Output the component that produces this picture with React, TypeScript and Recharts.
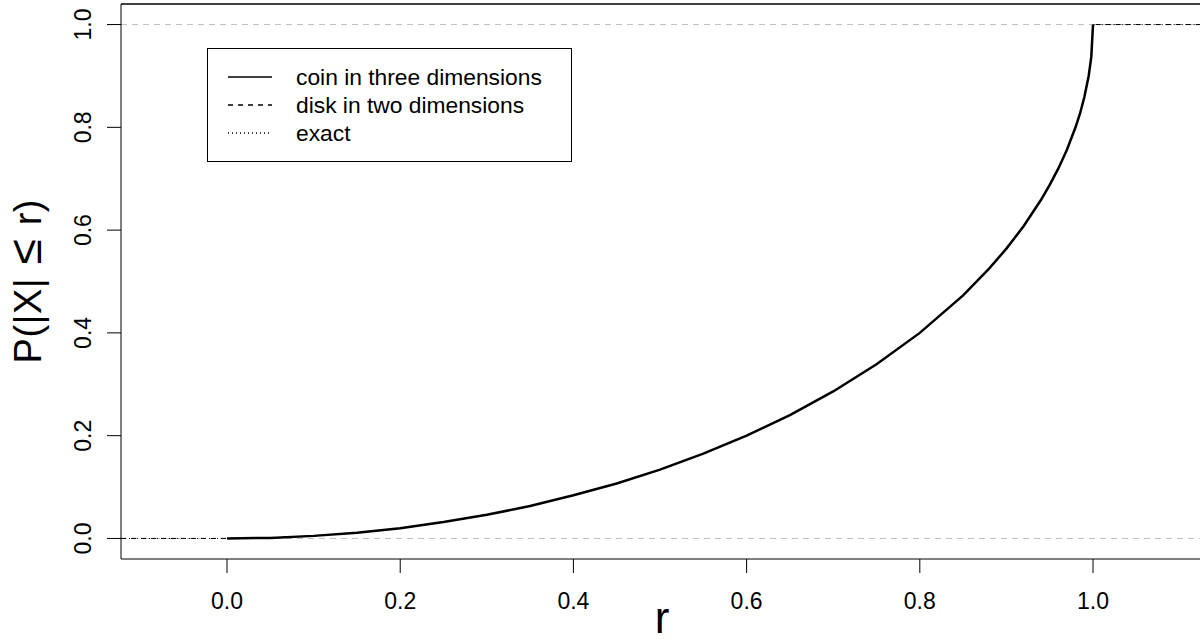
import { LineChart, Line, XAxis, YAxis, ReferenceLine, Legend } from "recharts";

const rGrid = [
  -0.1224, 0, 0.05, 0.1, 0.15, 0.2, 0.25, 0.3, 0.35, 0.4, 0.45, 0.5, 0.55, 0.6, 0.65, 0.7, 0.75,
  0.8, 0.85, 0.88, 0.9, 0.92, 0.94, 0.95, 0.96, 0.97, 0.98, 0.985, 0.99, 0.995, 0.998, 1.0, 1.127,
];
const coinProb = [
  null, 0, 0.001, 0.005, 0.011, 0.02, 0.032, 0.046, 0.063, 0.084, 0.107, 0.134, 0.165, 0.2, 0.24,
  0.286, 0.339, 0.4, 0.473, 0.525, 0.564, 0.608, 0.659, 0.688, 0.72, 0.757, 0.801, 0.827, 0.859,
  0.9, 0.937, 1, null,
];
const diskProb = [
  0, 0, 0.001, 0.005, 0.011, 0.02, 0.032, 0.046, 0.063, 0.084, 0.107, 0.134, 0.165, 0.2, 0.24,
  0.286, 0.339, 0.4, 0.473, 0.525, 0.564, 0.608, 0.659, 0.688, 0.72, 0.757, 0.801, 0.827, 0.859,
  0.9, 0.937, 1, 1,
];
const exactProb = [
  0, 0, 0.001, 0.005, 0.011, 0.02, 0.032, 0.046, 0.063, 0.084, 0.107, 0.134, 0.165, 0.2, 0.24,
  0.286, 0.339, 0.4, 0.473, 0.525, 0.564, 0.608, 0.659, 0.688, 0.72, 0.757, 0.801, 0.827, 0.859,
  0.9, 0.937, 1, 1,
];
const xTicks = [0, 0.2, 0.4, 0.6, 0.8, 1.0];
const yTicks = [0, 0.2, 0.4, 0.6, 0.8, 1.0];
const refLevels = [0, 1];
const seriesNames = ["coin in three dimensions", "disk in two dimensions", "exact"];

const xDomain: [number, number] = [-0.1224, 1.127];
const yDomain: [number, number] = [-0.04, 1.04];

const font = '"Liberation Sans", Arial, Helvetica, sans-serif';
const dashes = ["", "5 5", "1 3"];
const widths = [2.5, 1, 1];

const data = rGrid.map((r, i) => ({
  r,
  coin: coinProb[i],
  disk: diskProb[i],
  exact: exactProb[i],
}));

const YTick = ({ x, y, payload }: any) => (
  <text
    x={x}
    y={y}
    transform={`rotate(-90 ${x} ${y})`}
    textAnchor="middle"
    fontSize={23}
    fontFamily={font}
    fill="#000"
  >
    {Number(payload.value).toFixed(1)}
  </text>
);

const XLabel = ({ viewBox }: any) => (
  <text
    x={viewBox.x + viewBox.width / 2}
    y={viewBox.y + 74}
    textAnchor="middle"
    fontSize={44}
    fontFamily={font}
    fill="#000"
  >
    r
  </text>
);

const YLabel = ({ viewBox }: any) => {
  const x = viewBox.x + 41;
  const y = viewBox.y + viewBox.height / 2;
  return (
    <text
      x={x}
      y={y}
      transform={`rotate(-90 ${x} ${y})`}
      textAnchor="middle"
      fontSize={38}
      fontFamily={font}
      fill="#000"
      textLength={164}
      lengthAdjust="spacing"
    >
      P(|X|<tspan fontSize={46}> ≤ </tspan>r)
    </text>
  );
};

const LegendBox = ({ payload }: any) => (
  <svg width={366} height={115} style={{ display: "block" }}>
    <rect x={0.5} y={0.5} width={364} height={113} fill="#fff" stroke="#000" />
    {(payload || []).map((p: any, i: number) => (
      <g key={p.value}>
        <line
          x1={21}
          x2={65}
          y1={29 + i * 28}
          y2={29 + i * 28}
          stroke="#000"
          strokeWidth={1.3}
          strokeDasharray={dashes[i] || undefined}
        />
        <text
          x={89}
          y={29 + i * 28}
          dominantBaseline="central"
          fontSize={22.8}
          fontFamily={font}
          fill="#000"
        >
          {p.value}
        </text>
      </g>
    ))}
  </svg>
);

export default function App() {
  return (
    <div style={{ width: 1200, height: 641, overflow: "hidden", background: "#fff" }}>
      <style>{"body{margin:0}"}</style>
      <LineChart
        width={1210}
        height={641}
        data={data}
        margin={{ top: 4, right: 7, bottom: 0, left: 0 }}
      >
        <XAxis
          dataKey="r"
          type="number"
          domain={xDomain}
          allowDataOverflow
          ticks={xTicks}
          tickFormatter={(v: number) => v.toFixed(1)}
          tickSize={14}
          tickMargin={20}
          height={82}
          stroke="#000"
          tick={{ fill: "#000", fontSize: 23, fontFamily: font }}
          label={{ content: XLabel }}
        />
        <YAxis
          type="number"
          domain={yDomain}
          allowDataOverflow
          ticks={yTicks}
          tickSize={14}
          tickMargin={16}
          width={121}
          stroke="#000"
          tick={YTick}
          label={{ content: YLabel }}
        />
        {/* top edge of the plot box */}
        <ReferenceLine y={yDomain[1]} stroke="#000" strokeWidth={1.5} ifOverflow="visible" />
        {refLevels.map((v) => (
          <ReferenceLine key={v} y={v} stroke="#bebebe" strokeDasharray="6 5" strokeWidth={1} />
        ))}
        <Legend
          layout="horizontal"
          verticalAlign="middle"
          content={LegendBox}
          wrapperStyle={{ position: "absolute", left: 207, top: 48, width: 366, height: 115 }}
        />
        <Line
          dataKey="coin"
          name={seriesNames[0]}
          type="linear"
          stroke="#000"
          strokeWidth={widths[0]}
          dot={false}
          activeDot={false}
          isAnimationActive={false}
        />
        <Line
          dataKey="disk"
          name={seriesNames[1]}
          type="linear"
          stroke="#000"
          strokeWidth={widths[1]}
          strokeDasharray={dashes[1]}
          dot={false}
          activeDot={false}
          isAnimationActive={false}
        />
        <Line
          dataKey="exact"
          name={seriesNames[2]}
          type="linear"
          stroke="#000"
          strokeWidth={widths[2]}
          strokeDasharray={dashes[2]}
          dot={false}
          activeDot={false}
          isAnimationActive={false}
        />
      </LineChart>
    </div>
  );
}
